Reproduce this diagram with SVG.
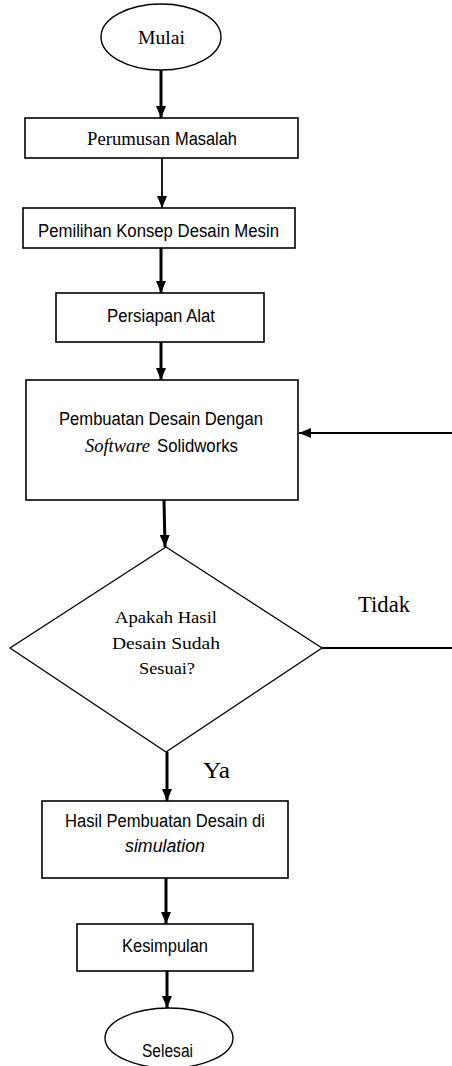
<svg xmlns="http://www.w3.org/2000/svg" width="452" height="1066" viewBox="0 0 452 1066">
  <style>
    .box { fill: #ffffff; stroke: #000000; stroke-width: 1.6; }
    .term { fill: #ffffff; stroke: #000000; stroke-width: 1.4; }
    .dec { fill: #ffffff; stroke: #000000; stroke-width: 1.3; }
    .sans { font-family: "Liberation Sans", Arial, sans-serif; font-size: 18px; fill: #000000; }
    .serif { font-family: "Liberation Serif", "Times New Roman", serif; fill: #000000; }
    .thick { stroke: #000000; stroke-width: 3; fill: none; }
    .thin { stroke: #000000; stroke-width: 1.8; fill: none; }
  </style>
  <defs>
    <marker id="arrow" viewBox="0 0 12 10" refX="12" refY="5" markerWidth="12" markerHeight="10" markerUnits="userSpaceOnUse" orient="auto">
      <path d="M0,0 L12,5 L0,10 z" fill="#000000"/>
    </marker>
  </defs>

  <!-- connectors -->
  <g id="connectors">
    <line class="thick" x1="161" y1="70" x2="161" y2="118" marker-end="url(#arrow)"/>
    <line class="thin" x1="162" y1="158" x2="162" y2="208" marker-end="url(#arrow)"/>
    <line class="thick" x1="161" y1="248" x2="161" y2="293" marker-end="url(#arrow)"/>
    <line class="thick" x1="161" y1="342" x2="161" y2="380" marker-end="url(#arrow)"/>
    <path class="thick" d="M164,500 L165,547" marker-end="url(#arrow)"/>
    <line class="thick" x1="167" y1="752" x2="167" y2="801" marker-end="url(#arrow)"/>
    <line class="thick" x1="166" y1="878" x2="166" y2="924" marker-end="url(#arrow)"/>
    <line class="thick" x1="167" y1="971" x2="167" y2="1008" marker-end="url(#arrow)"/>
    <!-- "Tidak" loop back to the design step -->
    <line class="thin" x1="322" y1="648" x2="452" y2="648"/>
    <line class="thin" x1="452" y1="433" x2="299" y2="433" marker-end="url(#arrow)"/>
    <text class="serif" x="358" y="612" font-size="23" textLength="52" lengthAdjust="spacingAndGlyphs">Tidak</text>
    <text class="serif" x="203" y="778" font-size="23" textLength="27" lengthAdjust="spacingAndGlyphs">Ya</text>
  </g>

  <g id="mulai">
    <ellipse class="term" cx="161" cy="37" rx="60" ry="33"/>
    <text class="serif" x="138" y="44" font-size="19" textLength="47" lengthAdjust="spacingAndGlyphs">Mulai</text>
  </g>

  <g id="perumusan">
    <rect class="box" x="25" y="118" width="273" height="40"/>
    <text class="serif" x="87" y="145" font-size="19" textLength="83" lengthAdjust="spacingAndGlyphs">Perumusan</text>
    <text class="sans" x="175" y="145" textLength="62" lengthAdjust="spacingAndGlyphs">Masalah</text>
  </g>

  <g id="pemilihan">
    <rect class="box" x="23" y="208" width="272" height="40"/>
    <text class="sans" x="38" y="237" textLength="241" lengthAdjust="spacingAndGlyphs">Pemilihan Konsep Desain Mesin</text>
  </g>

  <g id="persiapan">
    <rect class="box" x="56" y="293" width="208" height="49"/>
    <text class="sans" x="107" y="322" textLength="108" lengthAdjust="spacingAndGlyphs">Persiapan Alat</text>
  </g>

  <g id="pembuatan">
    <rect class="box" x="26" y="380" width="272" height="120"/>
    <text class="sans" x="59" y="425" textLength="204" lengthAdjust="spacingAndGlyphs">Pembuatan Desain Dengan</text>
    <text class="serif" x="85" y="452" font-size="18" font-style="italic" textLength="65" lengthAdjust="spacingAndGlyphs">Software</text>
    <text class="sans" x="157" y="452" textLength="81" lengthAdjust="spacingAndGlyphs">Solidworks</text>
  </g>

  <g id="keputusan">
    <polygon class="dec" points="166,547 322,648 166,752 10,648"/>
    <text class="serif" x="115" y="623" font-size="17" textLength="102" lengthAdjust="spacingAndGlyphs">Apakah Hasil</text>
    <text class="serif" x="112" y="649" font-size="17" textLength="108" lengthAdjust="spacingAndGlyphs">Desain  Sudah</text>
    <text class="serif" x="139" y="674" font-size="17" textLength="56" lengthAdjust="spacingAndGlyphs">Sesuai?</text>
  </g>

  <g id="hasil">
    <rect class="box" x="42" y="801" width="246" height="77"/>
    <text class="sans" x="65" y="827" textLength="200" lengthAdjust="spacingAndGlyphs">Hasil Pembuatan Desain di</text>
    <text class="sans" x="125" y="852" font-style="italic" textLength="80" lengthAdjust="spacingAndGlyphs">simulation</text>
  </g>

  <g id="kesimpulan">
    <rect class="box" x="77" y="924" width="176" height="47"/>
    <text class="sans" x="122" y="952" textLength="86" lengthAdjust="spacingAndGlyphs">Kesimpulan</text>
  </g>

  <g id="selesai">
    <ellipse class="term" cx="169" cy="1038" rx="64" ry="30"/>
    <text class="sans" x="142" y="1057" textLength="51" lengthAdjust="spacingAndGlyphs">Selesai</text>
  </g>
</svg>
